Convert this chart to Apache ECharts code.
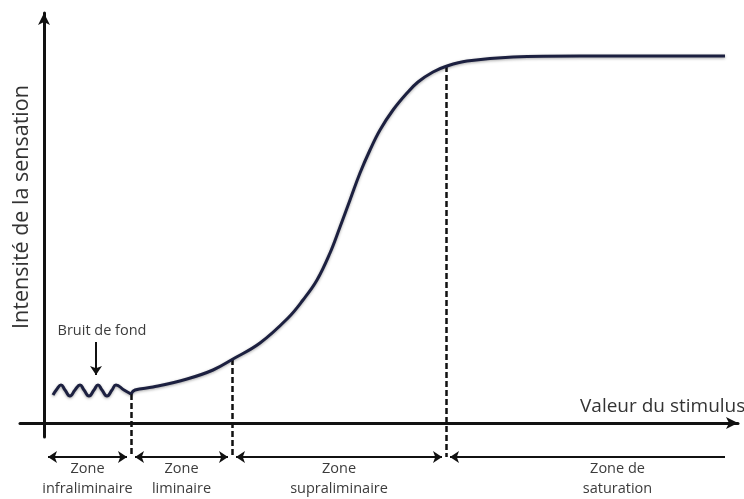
<!DOCTYPE html>
<html>
<head>
<meta charset="utf-8">
<script src="https://cdn.jsdelivr.net/npm/echarts@6/dist/echarts.min.js"></script>
<style>
  html, body { margin: 0; padding: 0; background: #ffffff; }
  #chart { width: 744px; height: 499px; }
</style>
</head>
<body>
<div id="chart"></div>
<script>
// ---- Data (stimulus units on x, sensation intensity units on y) ----
const waveStimulus = [9, 13, 17, 21, 26, 31, 36, 40, 45, 50, 54, 58, 63, 68, 72, 80, 87];
const waveIntensity = [28, 34, 38, 33, 27, 33, 38, 33, 27, 33, 38, 33, 27, 33, 38, 33, 29];

const curveStimulus = [87, 91, 109, 143, 169, 189, 216, 244, 259, 273, 286, 296, 306, 316, 326, 336, 349, 363, 374, 389, 403, 423, 469, 536, 681];
const curveIntensity = [29, 33, 36, 44, 53, 64, 80, 105, 123, 143, 170, 196, 223, 250, 273, 293, 313, 330, 341, 351, 357, 362, 366, 367, 367];

const zoneBounds = [0, 87, 188, 402, 681];
const thresholdTops = [29, 64, 357];   // curve height at each threshold
const zoneLabels = ['Zone\ninfraliminaire', 'Zone\nliminaire', 'Zone\nsupraliminaire', 'Zone de\nsaturation'];
const zoneRowLevel = -34;
const noiseArrow = { x: 52, from: 81, to: 48, label: 'Bruit de fond' };
const xAxisName = 'Valeur du stimulus';
const yAxisName = 'Intensité de la sensation';

const FONT = '"Open Sans", "DejaVu Sans", sans-serif';
const TXT = '#3c3c3c';
const INK = '#111111';

const pair = (xs, ys) => xs.map((x, i) => [x, ys[i]]);

const inset = 4;
const doubleArrows = [];
for (let i = 0; i < 3; i++) {
  doubleArrows.push({
    coords: [[zoneBounds[i] + inset, zoneRowLevel], [zoneBounds[i + 1] - inset, zoneRowLevel]],
    label: { formatter: zoneLabels[i] }
  });
}
const lastArrow = [{
  coords: [[zoneBounds[3] + inset, zoneRowLevel], [zoneBounds[4], zoneRowLevel]],
  label: { formatter: zoneLabels[3], offset: [30, 0] }
}];

const thresholds = thresholdTops.map((top, i) => ({
  coords: [[zoneBounds[i + 1], top], [zoneBounds[i + 1], zoneRowLevel]]
}));

const zoneLabelStyle = {
  show: true,
  position: 'insideMiddleBottom',
  distance: 2,
  fontFamily: FONT,
  fontSize: 14.5,
  lineHeight: 20,
  color: TXT,
  align: 'center'
};

const chart = echarts.init(document.getElementById('chart'), null, { renderer: 'canvas' });
chart.setOption({
  animation: false,
  backgroundColor: '#ffffff',
  grid: { left: 20, right: 6, top: 13, bottom: 62, containLabel: false },
  xAxis: {
    type: 'value', min: -24, max: 694,
    axisLine: { show: true, onZero: true, symbol: ['none', 'arrow'], symbolSize: [9, 12],
      lineStyle: { color: INK, width: 3 } },
    axisTick: { show: false }, axisLabel: { show: false }, splitLine: { show: false }
  },
  yAxis: {
    type: 'value', min: -14, max: 410,
    axisLine: { show: true, onZero: true, symbol: ['none', 'arrow'], symbolSize: [9, 12],
      lineStyle: { color: INK, width: 3 } },
    axisTick: { show: false }, axisLabel: { show: false }, splitLine: { show: false }
  },
  graphic: [
    { type: 'text', x: 580, y: 407,
      style: { text: xAxisName, font: '19px ' + FONT, fill: '#333333', align: 'left', verticalAlign: 'middle',
        textAlign: 'left', textVerticalAlign: 'middle' } },
    { type: 'text', x: 22, y: 207, rotation: Math.PI / 2,
      style: { text: yAxisName, font: '21.5px ' + FONT, fill: '#333333', align: 'center', verticalAlign: 'middle',
        textAlign: 'center', textVerticalAlign: 'middle' } }
  ],
  series: [
    {
      type: 'lines', coordinateSystem: 'cartesian2d', z: 3, clip: false,
      symbol: ['none', 'none'],
      lineStyle: { color: INK, width: 2.5, type: [6, 3], opacity: 1 },
      data: thresholds
    },
    {
      type: 'lines', coordinateSystem: 'cartesian2d', z: 4, clip: false,
      symbol: ['arrow', 'arrow'], symbolSize: 9,
      lineStyle: { color: INK, width: 2, opacity: 1 },
      label: zoneLabelStyle,
      data: doubleArrows
    },
    {
      type: 'lines', coordinateSystem: 'cartesian2d', z: 4, clip: false,
      symbol: ['arrow', 'none'], symbolSize: 9,
      lineStyle: { color: INK, width: 2, opacity: 1 },
      label: zoneLabelStyle,
      data: lastArrow
    },
    {
      type: 'lines', coordinateSystem: 'cartesian2d', z: 4, clip: false,
      symbol: ['none', 'arrow'], symbolSize: 9,
      lineStyle: { color: INK, width: 2, opacity: 1 },
      label: { show: true, position: 'start', distance: 4, offset: [6, 0], formatter: noiseArrow.label,
        fontFamily: FONT, fontSize: 14.5, color: TXT },
      data: [{ coords: [[noiseArrow.x, noiseArrow.from], [noiseArrow.x, noiseArrow.to]] }]
    },
    {
      type: 'line', smooth: 0.5, showSymbol: false, z: 5,
      lineStyle: { color: '#1c2040', width: 3, shadowColor: 'rgba(0,0,0,0.35)', shadowBlur: 3, shadowOffsetY: 1 },
      data: pair(waveStimulus, waveIntensity)
    },
    {
      type: 'line', smooth: 0.4, showSymbol: false, z: 5,
      lineStyle: { color: '#1c2040', width: 3, shadowColor: 'rgba(0,0,0,0.35)', shadowBlur: 3, shadowOffsetY: 1 },
      data: pair(curveStimulus, curveIntensity)
    }
  ]
});
</script>
</body>
</html>
